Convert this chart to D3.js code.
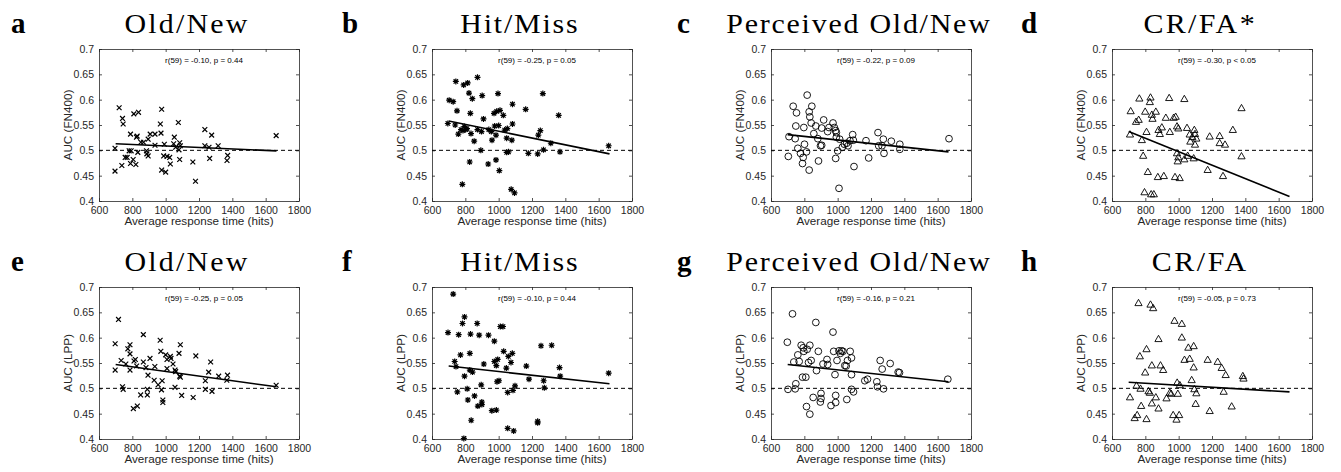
<!DOCTYPE html>
<html>
<head>
<meta charset="utf-8">
<script src="https://cdn.jsdelivr.net/npm/d3@7"></script>
<style>
  body { margin: 0; background: #fff; }
  svg { display: block; }
</style>
</head>
<body>
<script>
// axis ticks
const xTicks = [600, 800, 1000, 1200, 1400, 1600, 1800];
const xTickLabels = ["600", "800", "1000", "1200", "1400", "1600", "1800"];
const yTicks = [0.4, 0.45, 0.5, 0.55, 0.6, 0.65, 0.7];
const yTickLabels = ["0.4", "0.45", "0.5", "0.55", "0.6", "0.65", "0.7"];

const panelLetters = ["a", "b", "c", "d", "e", "f", "g", "h"];
const panelTitles = ["Old/New", "Hit/Miss", "Perceived Old/New", "CR/FA*",
                     "Old/New", "Hit/Miss", "Perceived Old/New", "CR/FA"];
const yLabels = ["AUC (FN400)", "AUC (LPP)"];
const xLabel = "Average response time (hits)";
const statsText = ["r(59) = -0.10, p = 0.44", "r(59) = -0.25, p = 0.05",
                   "r(59) = -0.22, p = 0.09", "r(59) = -0.30, p < 0.05",
                   "r(59) = -0.25, p = 0.05", "r(59) = -0.10, p = 0.44",
                   "r(59) = -0.16, p = 0.21", "r(59) = -0.05, p = 0.73"];

// fitted line: x range and y at each end, per panel
const fitRange = [700, 1665];
const fitEnds = [[0.513, 0.499], [0.558, 0.493], [0.531, 0.497], [0.537, 0.409],
                 [0.547, 0.503], [0.544, 0.509], [0.547, 0.513], [0.512, 0.493]];

// [response time, AUC]
const fn400OldNew = [[696,0.504],[696,0.459],[721,0.584],[741,0.563],[745,0.552],[737,0.470],[757,0.486],[769,0.486],[789,0.532],[781,0.499],[793,0.499],[789,0.474],[809,0.572],[837,0.575],[805,0.482],[825,0.526],[829,0.528],[821,0.472],[833,0.496],[851,0.516],[867,0.516],[895,0.522],[907,0.532],[936,0.532],[936,0.510],[885,0.499],[887,0.493],[895,0.489],[968,0.552],[972,0.534],[976,0.581],[976,0.461],[988,0.489],[992,0.512],[1000,0.457],[1008,0.488],[1024,0.486],[1028,0.473],[1048,0.513],[1052,0.526],[1060,0.506],[1076,0.555],[1084,0.515],[1088,0.509],[1080,0.501],[1084,0.482],[1163,0.477],[1179,0.439],[1235,0.541],[1235,0.509],[1260,0.506],[1276,0.530],[1264,0.484],[1315,0.509],[1372,0.490],[1368,0.480],[1663,0.529]];

const fn400HitMiss = [[695,0.553],[703,0.599],[727,0.596],[743,0.636],[750,0.578],[739,0.550],[758,0.532],[774,0.541],[790,0.629],[814,0.633],[822,0.613],[794,0.547],[802,0.541],[810,0.543],[786,0.539],[830,0.573],[842,0.602],[834,0.533],[853,0.518],[826,0.477],[782,0.433],[873,0.644],[873,0.541],[897,0.537],[901,0.608],[909,0.562],[893,0.500],[937,0.473],[941,0.541],[956,0.537],[960,0.520],[976,0.548],[972,0.573],[988,0.577],[996,0.612],[984,0.530],[984,0.481],[1000,0.549],[1008,0.579],[1004,0.460],[1028,0.569],[1036,0.540],[1052,0.543],[1048,0.524],[1048,0.496],[1059,0.497],[1083,0.591],[1083,0.552],[1079,0.520],[1075,0.423],[1095,0.416],[1162,0.581],[1178,0.494],[1234,0.493],[1238,0.530],[1250,0.539],[1265,0.612],[1269,0.501],[1313,0.514],[1360,0.569],[1368,0.497],[1660,0.509]];

const fn400Perceived = [[704,0.488],[708,0.527],[733,0.587],[753,0.574],[749,0.548],[745,0.523],[761,0.504],[777,0.494],[789,0.474],[793,0.486],[801,0.512],[797,0.545],[813,0.497],[817,0.609],[829,0.576],[833,0.566],[841,0.554],[845,0.587],[829,0.461],[857,0.533],[869,0.548],[881,0.523],[885,0.479],[897,0.509],[904,0.510],[904,0.544],[916,0.560],[940,0.537],[948,0.545],[972,0.554],[980,0.545],[988,0.539],[992,0.526],[992,0.535],[988,0.484],[1000,0.499],[1012,0.522],[1008,0.425],[1028,0.506],[1040,0.512],[1054,0.514],[1062,0.509],[1074,0.519],[1090,0.531],[1094,0.520],[1098,0.468],[1170,0.519],[1186,0.485],[1242,0.535],[1246,0.509],[1266,0.509],[1274,0.522],[1278,0.494],[1322,0.518],[1373,0.512],[1373,0.502],[1668,0.523]];

const fn400CrFa = [[708,0.531],[712,0.577],[744,0.556],[760,0.560],[764,0.602],[779,0.520],[787,0.489],[799,0.576],[807,0.536],[795,0.417],[815,0.457],[827,0.595],[831,0.604],[839,0.570],[843,0.562],[835,0.413],[851,0.413],[863,0.576],[879,0.540],[887,0.532],[899,0.545],[875,0.447],[911,0.449],[923,0.564],[943,0.603],[947,0.536],[970,0.564],[982,0.566],[990,0.547],[998,0.543],[978,0.447],[1006,0.445],[990,0.494],[994,0.478],[998,0.486],[1034,0.601],[1050,0.544],[1034,0.482],[1054,0.489],[1066,0.531],[1070,0.517],[1082,0.526],[1094,0.540],[1098,0.532],[1098,0.511],[1106,0.523],[1090,0.484],[1174,0.461],[1186,0.527],[1246,0.528],[1246,0.514],[1266,0.449],[1278,0.511],[1325,0.540],[1377,0.583],[1377,0.488]];

const lppOldNew = [[717,0.636],[697,0.588],[697,0.536],[733,0.555],[741,0.503],[745,0.498],[761,0.548],[773,0.578],[786,0.586],[786,0.568],[786,0.536],[810,0.554],[818,0.557],[826,0.544],[806,0.460],[830,0.465],[850,0.487],[866,0.606],[866,0.552],[882,0.541],[894,0.526],[906,0.559],[890,0.498],[890,0.487],[931,0.516],[935,0.543],[955,0.507],[967,0.595],[971,0.573],[975,0.497],[979,0.515],[983,0.477],[983,0.472],[1000,0.566],[1008,0.557],[1008,0.539],[1028,0.563],[1032,0.559],[1044,0.548],[1056,0.536],[1060,0.533],[1056,0.502],[1080,0.569],[1088,0.586],[1084,0.524],[1088,0.522],[1096,0.486],[1165,0.482],[1181,0.564],[1238,0.515],[1238,0.498],[1258,0.532],[1270,0.552],[1278,0.494],[1318,0.524],[1371,0.526],[1367,0.516],[1663,0.506]];

const lppHitMiss = [[696,0.610],[727,0.686],[736,0.553],[744,0.543],[752,0.493],[760,0.606],[771,0.566],[783,0.628],[795,0.641],[795,0.524],[811,0.499],[815,0.477],[791,0.401],[827,0.569],[831,0.607],[827,0.536],[843,0.532],[835,0.437],[855,0.485],[871,0.628],[883,0.605],[875,0.465],[895,0.507],[899,0.473],[899,0.468],[911,0.548],[939,0.605],[959,0.456],[974,0.553],[974,0.593],[986,0.457],[986,0.545],[994,0.557],[990,0.513],[1002,0.515],[1010,0.622],[1026,0.622],[1030,0.573],[1046,0.540],[1058,0.563],[1074,0.551],[1082,0.569],[1054,0.492],[1086,0.496],[1098,0.505],[1054,0.421],[1090,0.416],[1166,0.544],[1182,0.518],[1234,0.435],[1234,0.432],[1254,0.584],[1318,0.585],[1270,0.515],[1274,0.501],[1365,0.541],[1369,0.524],[1660,0.530]];

const lppPerceived = [[698,0.591],[702,0.498],[729,0.647],[737,0.552],[745,0.499],[749,0.509],[761,0.566],[769,0.553],[781,0.585],[793,0.580],[797,0.573],[789,0.522],[809,0.522],[817,0.577],[825,0.551],[833,0.585],[841,0.555],[813,0.464],[833,0.449],[853,0.482],[869,0.630],[873,0.535],[884,0.573],[900,0.490],[900,0.480],[896,0.473],[912,0.548],[936,0.557],[940,0.547],[960,0.466],[972,0.611],[976,0.573],[984,0.527],[988,0.486],[988,0.472],[996,0.555],[1008,0.574],[1016,0.569],[1024,0.574],[1032,0.573],[1043,0.545],[1051,0.544],[1059,0.555],[1055,0.478],[1075,0.573],[1083,0.560],[1083,0.527],[1083,0.498],[1095,0.493],[1163,0.515],[1179,0.518],[1235,0.513],[1239,0.503],[1255,0.555],[1267,0.538],[1275,0.499],[1315,0.549],[1363,0.532],[1371,0.531],[1661,0.518]];

const lppCrFa = [[708,0.482],[736,0.441],[751,0.447],[759,0.668],[767,0.563],[747,0.505],[771,0.499],[775,0.465],[799,0.531],[807,0.577],[807,0.439],[819,0.494],[827,0.491],[831,0.665],[847,0.658],[839,0.545],[839,0.470],[863,0.482],[879,0.460],[879,0.597],[891,0.545],[907,0.536],[927,0.480],[947,0.491],[955,0.489],[975,0.633],[967,0.447],[987,0.438],[1003,0.447],[991,0.511],[995,0.489],[1007,0.506],[1019,0.627],[1019,0.600],[1035,0.556],[1058,0.580],[1066,0.558],[1090,0.583],[1078,0.516],[1090,0.541],[1094,0.498],[1102,0.469],[1106,0.490],[1174,0.556],[1186,0.455],[1234,0.552],[1258,0.540],[1282,0.526],[1270,0.493],[1318,0.464],[1385,0.524],[1389,0.519]];

const panelData = [fn400OldNew, fn400HitMiss, fn400Perceived, fn400CrFa,
                   lppOldNew, lppHitMiss, lppPerceived, lppCrFa];
const panelMarker = ["x", "star", "circle", "triangle", "x", "star", "circle", "triangle"];

// layout
const colLeft = [99, 432, 771, 1112];
const rowTop = [49, 287];
const plotW = 200, plotH = 152;
const letterX = [11, 342, 677, 1021];
const axisColor = "#262626";

var svg = d3.select("body").append("svg")
    .attr("width", 1341)
    .attr("height", 472);

function markerPath(kind) {
    if (kind == "x") return "M-2.4,-2.4L2.4,2.4M-2.4,2.4L2.4,-2.4";
    if (kind == "star") return "M-3,0H3M0,-3V3M-2.2,-2.2L2.2,2.2M-2.2,2.2L2.2,-2.2";
    if (kind == "circle") return d3.symbol().type(d3.symbolCircle).size(36)();
    return "M0,-3.9L3.6,2.4L-3.6,2.4Z";
}

function drawPanel(i) {
    var row = Math.floor(i / 4), col = i % 4;
    var left = colLeft[col], top = rowTop[row];
    var x = d3.scaleLinear().domain([600, 1800]).range([left, left + plotW]);
    var y = d3.scaleLinear().domain([0.4, 0.7]).range([top + plotH, top]);
    var g = svg.append("g");

    // box with inward ticks on all sides
    var bottom = g.append("g").attr("transform", "translate(0," + (top + plotH) + ")")
        .call(d3.axisBottom(x).tickValues(xTicks).tickFormat(function(d, k){ return xTickLabels[k]; })
            .tickSizeInner(-3).tickSizeOuter(0).tickPadding(6));
    var leftAx = g.append("g").attr("transform", "translate(" + left + ",0)")
        .call(d3.axisLeft(y).tickValues(yTicks).tickFormat(function(d, k){ return yTickLabels[k]; })
            .tickSizeInner(-3).tickSizeOuter(0).tickPadding(5));
    var topAx = g.append("g").attr("transform", "translate(0," + top + ")")
        .call(d3.axisTop(x).tickValues(xTicks).tickFormat("").tickSizeInner(-3).tickSizeOuter(0));
    var rightAx = g.append("g").attr("transform", "translate(" + (left + plotW) + ",0)")
        .call(d3.axisRight(y).tickValues(yTicks).tickFormat("").tickSizeInner(-3).tickSizeOuter(0));

    [bottom, leftAx, topAx, rightAx].forEach(function(a) {
        a.select(".domain").attr("stroke", axisColor).attr("stroke-width", 0.8);
        a.selectAll(".tick line").attr("stroke", axisColor).attr("stroke-width", 0.8);
        a.selectAll("text").attr("fill", axisColor)
            .style("font-family", "'Liberation Sans', Arial, sans-serif")
            .style("font-size", "10.5px");
    });

    // chance line
    g.append("line")
        .attr("x1", x(600)).attr("x2", x(1800))
        .attr("y1", y(0.5)).attr("y2", y(0.5))
        .attr("stroke", "#000").attr("stroke-width", 1)
        .attr("stroke-dasharray", "4,3");

    // points
    g.selectAll("path.pt")
        .data(panelData[i])
        .enter()
        .append("path")
        .attr("class", "pt")
        .attr("d", markerPath(panelMarker[i]))
        .attr("transform", function(d){ return "translate(" + x(d[0]) + "," + y(d[1]) + ")"; })
        .attr("fill", "none")
        .attr("stroke", "#000")
        .attr("stroke-width", panelMarker[i] == "x" || panelMarker[i] == "star" ? 1.2 : 0.9);

    // fitted line
    g.append("line")
        .attr("x1", x(fitRange[0])).attr("x2", x(fitRange[1]))
        .attr("y1", y(fitEnds[i][0])).attr("y2", y(fitEnds[i][1]))
        .attr("stroke", "#000").attr("stroke-width", 1.6);

    // stats
    g.append("text")
        .attr("x", left + plotW / 2 + 5).attr("y", top + 14)
        .attr("text-anchor", "middle")
        .style("font-family", "'Liberation Sans', Arial, sans-serif")
        .style("font-size", "8px")
        .attr("fill", "#000")
        .text(statsText[i]);

    // axis labels
    g.append("text")
        .attr("x", left + plotW / 2).attr("y", top + plotH + 24)
        .attr("text-anchor", "middle")
        .style("font-family", "'Liberation Sans', Arial, sans-serif")
        .style("font-size", "11.7px")
        .attr("fill", axisColor)
        .text(xLabel);
    g.append("text")
        .attr("transform", "translate(" + (left - 27) + "," + (top + plotH / 2) + ") rotate(-90)")
        .attr("text-anchor", "middle")
        .style("font-family", "'Liberation Sans', Arial, sans-serif")
        .style("font-size", "11.7px")
        .attr("fill", axisColor)
        .text(yLabels[row]);

    // title: widened a little (spacing + slight glyph stretch) to match the original serif
    var t = g.append("text")
        .attr("transform", "translate(" + (left + plotW / 2 - 13) + "," + (top - 16) + ") scale(1.07,1)")
        .attr("text-anchor", "middle")
        .style("font-family", "'Liberation Serif', 'Times New Roman', serif")
        .style("font-size", "28px")
        .attr("fill", "#000")
        .text(panelTitles[i]);
    var w = t.node().getComputedTextLength();
    t.attr("textLength", w * 1.12).attr("lengthAdjust", "spacing");

    g.append("text")
        .attr("x", letterX[col]).attr("y", top - 16)
        .style("font-family", "'Liberation Serif', 'Times New Roman', serif")
        .style("font-size", "29px")
        .style("font-weight", "bold")
        .attr("fill", "#000")
        .text(panelLetters[i]);
}

for (var i = 0; i < 8; i++) drawPanel(i);
</script>
</body>
</html>
